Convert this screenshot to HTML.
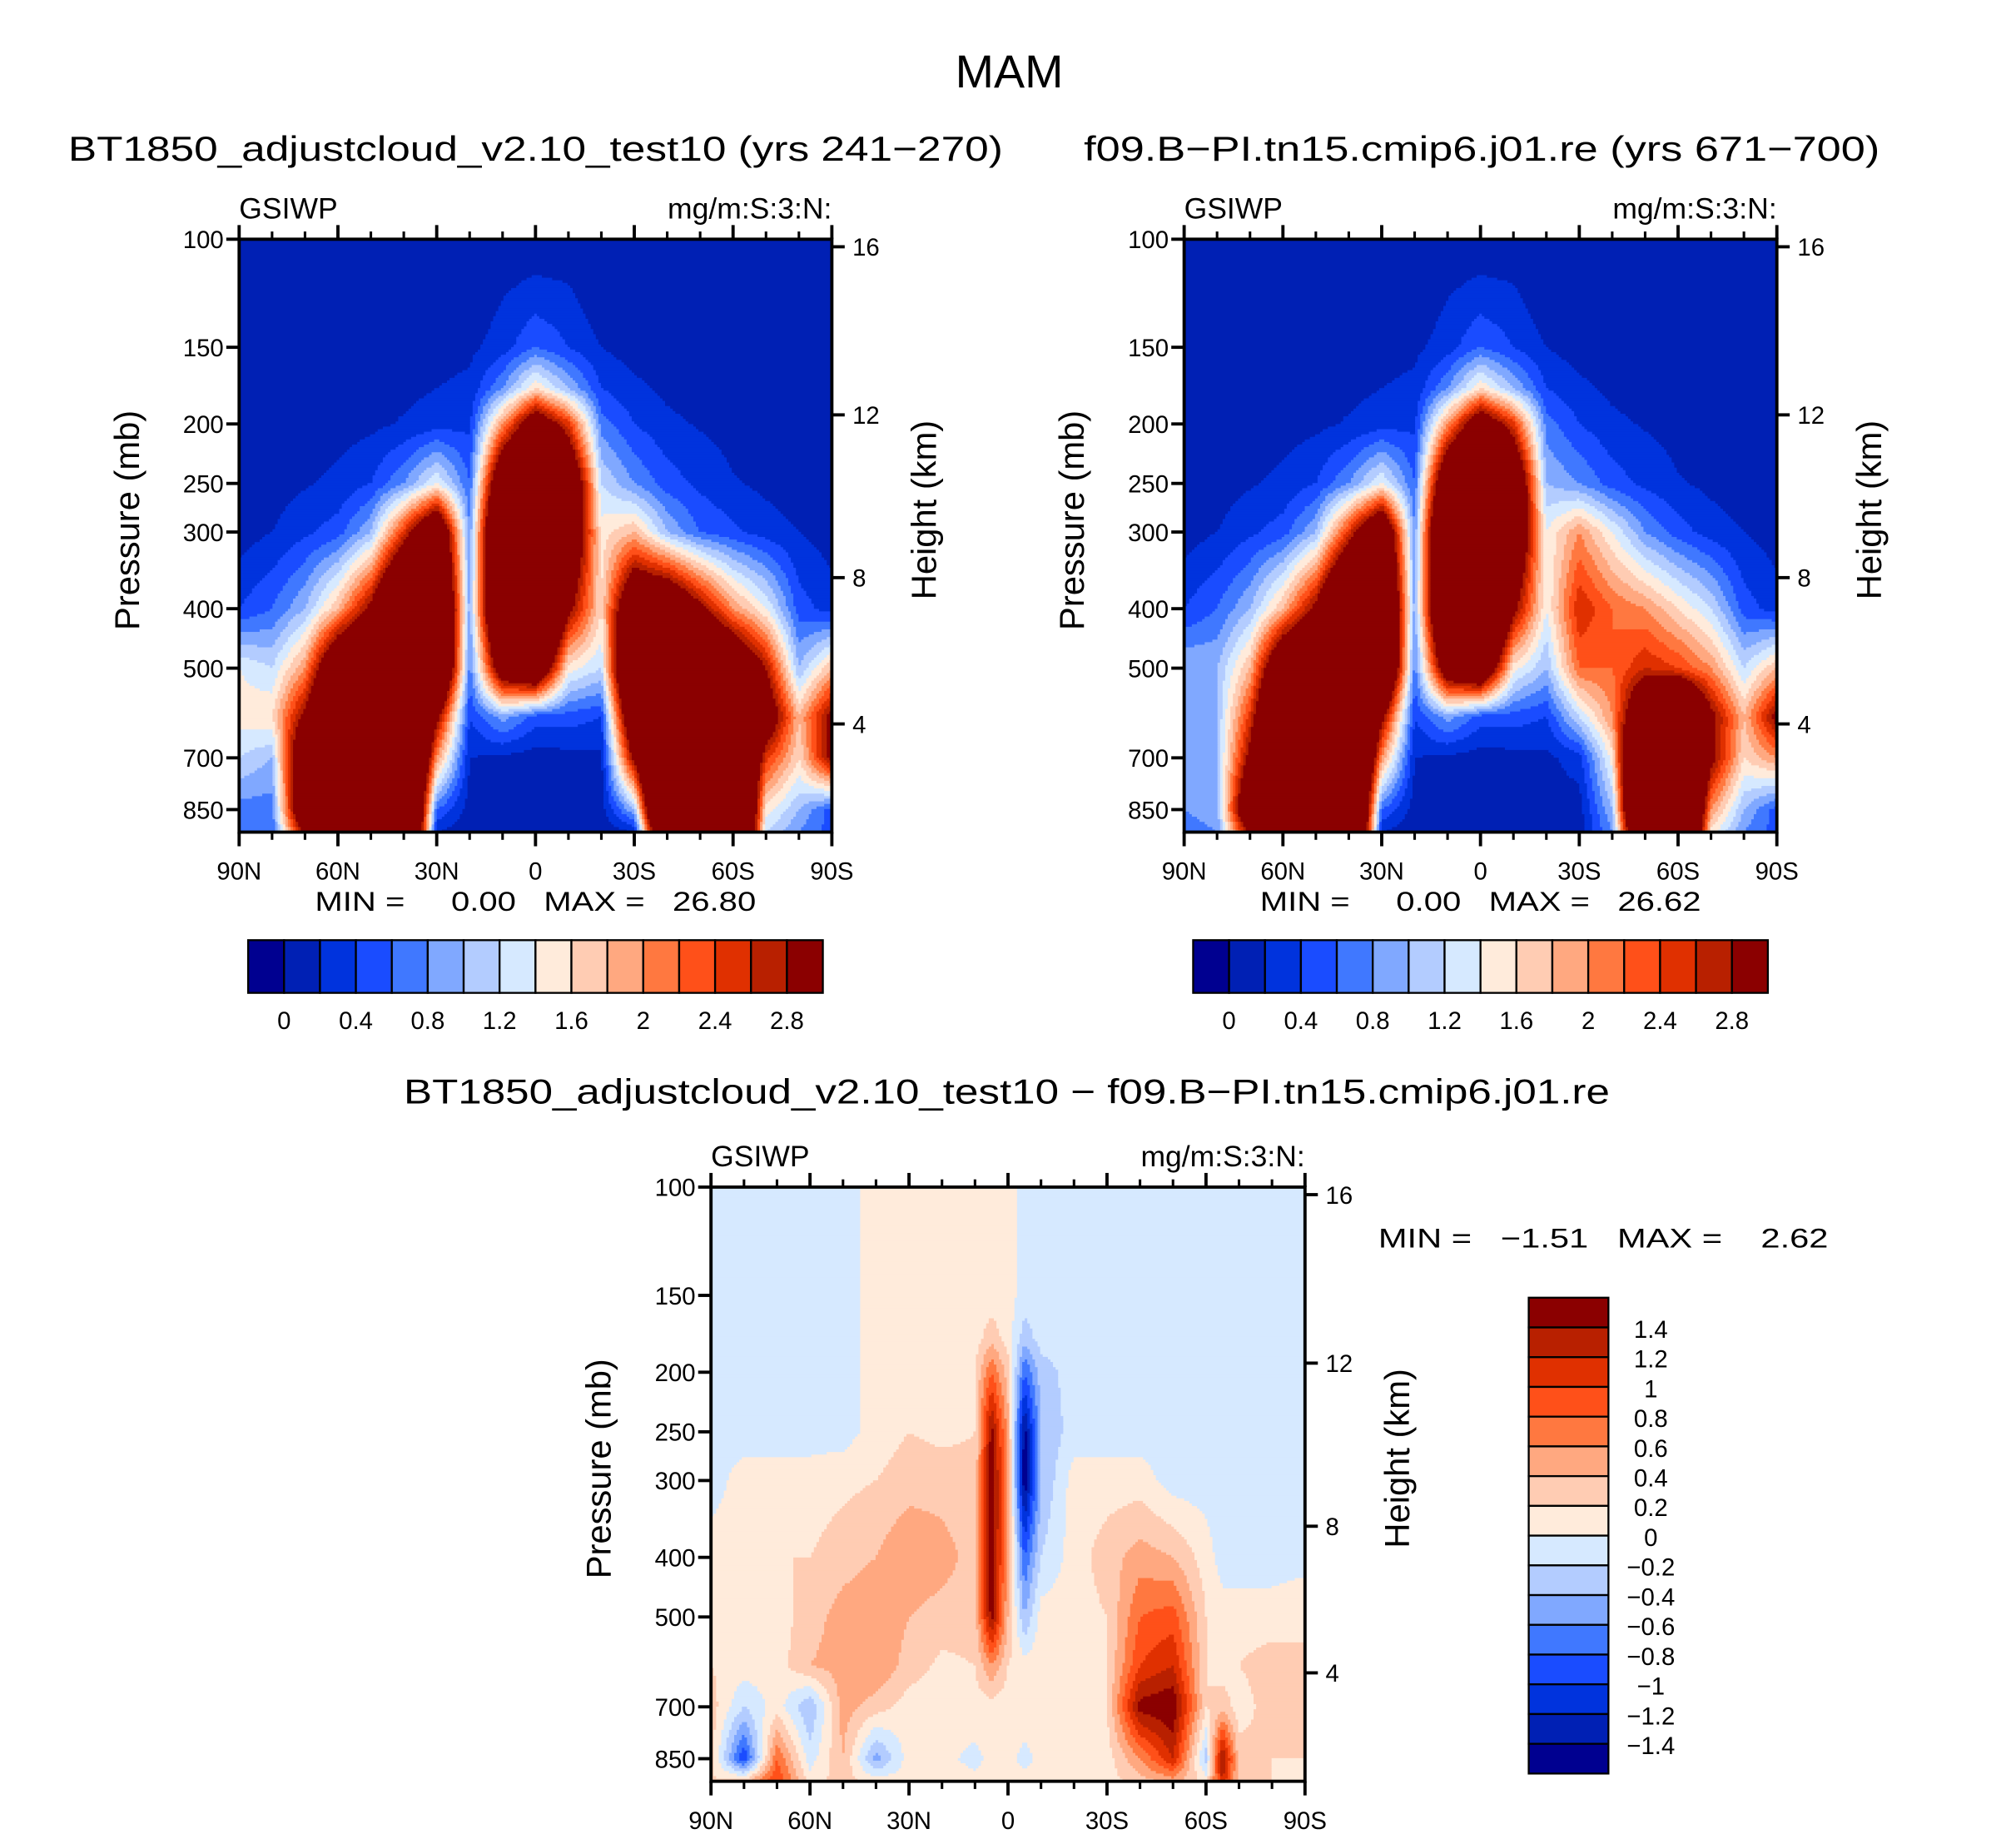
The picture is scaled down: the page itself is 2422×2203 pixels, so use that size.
<!DOCTYPE html>
<html><head><meta charset="utf-8"><style>
html,body{margin:0;padding:0;background:#fff;}
svg{display:block;font-family:"Liberation Sans",sans-serif;}
.pre{white-space:pre;}
</style></head><body>
<svg id="fig" xmlns="http://www.w3.org/2000/svg" width="2422" height="2203" viewBox="0 0 1568 1426" preserveAspectRatio="none">
<rect x="0" y="0" width="1568" height="1426" fill="#fff"/>
<text x="785" y="68" font-size="36" text-anchor="middle">MAM</text>
<text x="53" y="125" font-size="27" textLength="727" lengthAdjust="spacingAndGlyphs">BT1850_adjustcloud_v2.10_test10 (yrs 241−270)</text>
<text x="843" y="125" font-size="27" textLength="619" lengthAdjust="spacingAndGlyphs">f09.B−PI.tn15.cmip6.j01.re (yrs 671−700)</text>
<text x="314" y="858" font-size="27" textLength="938" lengthAdjust="spacingAndGlyphs">BT1850_adjustcloud_v2.10_test10 − f09.B−PI.tn15.cmip6.j01.re</text>
<g id="root"></g>
</svg>
<script>
const levels=[100,125,150,175,200,250,300,400,500,600,700,850,925];
const latsTop=[90,80,70,60,50,40,30,20,10,0,-10,-20,-30,-40,-50,-60,-70,-80,-90];
const fieldA=[
[.05,.05,.05,.05,.05,.05,.05,.05,.05,.05,.05,.05,.05,.05,.05,.05,.05,.05,.05],
[.05,.05,.05,.05,.05,.05,.05,.05,.2,.3,.25,.05,.05,.05,.05,.05,.05,.05,.05],
[.05,.05,.05,.05,.08,.1,.12,.15,.3,.6,.4,.2,.1,.08,.05,.05,.05,.05,.05],
[.05,.05,.05,.08,.15,.15,.2,.25,.8,1.6,1.0,.4,.25,.15,.1,.08,.05,.05,.05],
[.05,.05,.08,.12,.15,.22,.3,.35,2.0,3.5,2.5,.7,.4,.25,.18,.12,.08,.05,.05],
[.05,.1,.18,.25,.4,.8,1.4,.6,4,5,4,1.2,.8,.5,.35,.22,.15,.08,.05],
[.1,.2,.35,.5,1.0,2.5,4,.8,5,6,4,1.5,1.8,1.0,.6,.45,.3,.2,.1],
[.4,.6,1.0,1.8,3,5,5,.9,5,6,3,1.6,4,4,3,2,1.4,.5,.3],
[1.4,1.2,2.0,4,5,6,5,.7,3.5,4,1.5,1.2,5,6,5,4,2.8,1.0,1.8],
[1.5,1.6,3,5,6,6,3,.4,.9,.5,.5,.4,4,6,6,5,3.5,1.8,3],
[1.2,1.0,4,6,6,6,2,.2,.15,.1,.12,.15,3,6,6,5,2.5,1.6,3],
[.7,.7,4,6,6,6,.6,.1,.05,.05,.05,.1,1.0,6,6,6,1.5,1.0,.5],
[.6,.6,3,6,6,6,.2,.05,.05,.05,.05,.05,.2,5,6,6,1.2,.8,.5]];
const fieldB=[
[.05,.05,.05,.05,.05,.05,.05,.05,.05,.05,.05,.05,.05,.05,.05,.05,.05,.05,.05],
[.05,.05,.05,.05,.05,.05,.05,.05,.2,.3,.25,.05,.05,.05,.05,.05,.05,.05,.05],
[.05,.05,.05,.05,.08,.1,.12,.15,.3,.6,.4,.2,.1,.08,.05,.05,.05,.05,.05],
[.05,.05,.05,.08,.15,.15,.2,.25,.8,1.6,1.0,.4,.25,.15,.1,.08,.05,.05,.05],
[.05,.05,.08,.12,.15,.22,.3,.35,2.0,3.5,2.5,.7,.4,.25,.18,.12,.08,.05,.05],
[.05,.1,.18,.25,.4,.8,1.4,.6,4,5,4,1.0,.8,.5,.35,.22,.15,.08,.05],
[.1,.2,.35,.5,1.0,2.5,4,.8,5,6,4,1.4,2.0,1.4,.8,.5,.3,.2,.1],
[.4,.6,1.0,1.8,3,5,5,.9,5,6,3,1.4,2.6,2.2,2.0,1.6,1.2,.5,.3],
[1.0,1.0,1.8,4,5,6,5,.7,3.5,4,1.5,1.0,2.2,2.2,2.6,2.4,2.0,1.2,1.8],
[.9,1.0,2.5,5,6,6,3,.4,.9,.5,.5,.4,1.2,2.0,4,5,3,1.8,3],
[.9,1.0,3,6,6,6,2,.2,.15,.1,.12,.15,.3,1.5,6,6,3,1.6,2],
[.8,.9,4,6,6,6,.6,.1,.05,.05,.05,.1,.1,1.0,6,6,2,1.0,.5],
[.7,.8,3,6,6,6,.2,.05,.05,.05,.05,.05,.1,.8,5,6,1.5,.8,.5]];
const latsDiff=[90,80,70,60,50,40,30,20,10,5,0,-5,-10,-20,-30,-40,-50,-60,-65,-70,-80,-90];
const fieldD=[
[-.1,-.1,-.1,-.1,-.1,.1,.1,.1,.1,.1,.1,-.1,-.1,-.1,-.1,-.1,-.1,-.1,-.1,-.1,-.1,-.1],
[-.1,-.1,-.1,-.1,-.1,.1,.1,.1,.1,.1,.1,-.1,-.1,-.1,-.1,-.1,-.1,-.1,-.1,-.1,-.1,-.1],
[-.1,-.1,-.1,-.1,-.1,.1,.1,.1,.1,.1,.1,-.1,-.1,-.1,-.1,-.1,-.1,-.1,-.1,-.1,-.1,-.1],
[-.1,-.1,-.1,-.1,-.1,.1,.1,.1,.1,.3,.1,-.3,-.1,-.1,-.1,-.1,-.1,-.1,-.1,-.1,-.1,-.1],
[-.1,-.1,-.1,-.1,-.1,.1,.1,.1,.2,.8,.3,-.8,-.3,-.1,-.1,-.1,-.1,-.1,-.1,-.1,-.1,-.1],
[-.1,-.1,-.1,-.1,-.1,.1,.2,.15,.2,1.5,.5,-1.5,-.4,-.1,-.1,-.1,-.1,-.1,-.1,-.1,-.1,-.1],
[-.1,.1,.1,.1,.15,.2,.3,.3,.25,1.6,.6,-1.6,-.4,.1,.1,.1,-.1,-.1,-.1,-.1,-.1,-.1],
[.1,.1,.2,.2,.3,.4,.6,.5,.3,1.6,.5,-.8,-.2,.1,.3,.5,.4,.1,-.1,-.1,-.1,-.1],
[.2,.2,.1,.3,.5,.6,.4,.3,.3,1.5,.4,-.4,.1,.1,.2,.8,.9,.2,.1,.1,.1,.2],
[.2,.1,.1,.4,.5,.6,.3,.15,.2,.6,.2,.1,.1,.1,.2,1.0,1.2,.2,.1,.2,.3,.2],
[.3,-.2,.1,-.4,.5,.3,.1,.1,.1,.1,.1,.1,.1,.1,.2,1.5,1.6,.2,.3,.1,.3,.2],
[.3,-1.0,.8,-.1,.4,-.5,.1,.05,-.05,.05,.05,-.05,.05,.05,.1,.6,1.2,-.3,1.5,.3,.2,.2],
[.2,.3,1.0,.1,.3,.1,.1,.05,.05,.05,.05,.05,.05,.05,.1,.3,.5,.1,1.2,.3,.2,.1]];
const palette=["#000090","#0020B4","#0033DD","#1A4CFF","#4078FF","#80A8FF","#B3CCFF","#D6E9FF","#FFEBDB","#FFCCB3","#FFA880","#FF7840","#FF5019","#E03000","#B82000","#8B0000"];
const levTop=[0,0.2,0.4,0.6,0.8,1,1.2,1.4,1.6,1.8,2,2.2,2.4,2.6,2.8];
const levDiff=[-1.4,-1.2,-1,-0.8,-0.6,-0.4,-0.2,0,0.2,0.4,0.6,0.8,1,1.2,1.4];
const topCbLabels=["0","0.4","0.8","1.2","1.6","2","2.4","2.8"];
const diffCbLabels=["1.4","1.2","1","0.8","0.6","0.4","0.2","0","−0.2","−0.4","−0.6","−0.8","−1","−1.2","−1.4"];
const pTicks=[100,150,200,250,300,400,500,700,850];
const hTicks=[4,8,12,16];
const latMajor=[90,60,30,0,-30,-60,-90];
const latMajorLabels=["90N","60N","30N","0","30S","60S","90S"];
const latMinor=[80,70,50,40,20,10,-10,-20,-40,-50,-70,-80];

const NS="http://www.w3.org/2000/svg";
const root=document.getElementById('root');
function mk(tag,attrs,parent){const e=document.createElementNS(NS,tag);for(const k in attrs)e.setAttribute(k,attrs[k]);(parent||root).appendChild(e);return e;}
const P_TOP=100,P_BOT=925;
function yOfP(p,y0,h){return y0+h*Math.log(p/P_TOP)/Math.log(P_BOT/P_TOP);}
function xOfLat(lat,x0,w){return x0+w*(90-lat)/180;}
function pOfZ(z){return z<=11?1013.25*Math.pow(1-0.0065*z*1000/288.15,5.2559):226.32*Math.exp(-(z-11)/6.3416);}
function sample(field,lats,lat,p){
  let i=0;while(i<lats.length-2&&lat<lats[i+1])i++;
  let tx=(lats[i]-lat)/(lats[i]-lats[i+1]);tx=Math.max(0,Math.min(1,tx));
  const lp=Math.log(p);let j=0;while(j<levels.length-2&&p>levels[j+1])j++;
  let ty=(lp-Math.log(levels[j]))/(Math.log(levels[j+1])-Math.log(levels[j]));ty=Math.max(0,Math.min(1,ty));
  const a=field[j][i],b=field[j][i+1],c=field[j+1][i],d=field[j+1][i+1];
  return (a*(1-tx)+b*tx)*(1-ty)+(c*(1-tx)+d*tx)*ty;
}
function cidx(v,levs){let k=0;for(const l of levs){if(v>=l)k++;}return k;}

function panel(name,x0,y0,w,h,field,lats,levs){
  const g=mk('g',{});
  
  
  const n=231,cw=w/n,ch=h/n;
  for(let r=0;r<n;r++){
    const p=Math.exp(Math.log(P_TOP)+(r+0.5)/n*Math.log(P_BOT/P_TOP));
    let start=0,cur=-1;
    for(let c=0;c<=n;c++){
      let k=-2;
      if(c<n){const lat=90-(c+0.5)/n*180;k=cidx(sample(field,lats,lat,p),levs);}
      if(k!==cur){
        if(cur>=0){const rc=mk('rect',{x:(x0+start*cw).toFixed(2),y:(y0+r*ch).toFixed(2),width:((c-start)*cw+0.4).toFixed(2),height:(ch+0.4).toFixed(2),fill:palette[cur]},g);
          
          }
        cur=k;start=c;
      }
    }
  }
  const ax=mk('g',{stroke:'#000','stroke-width':2.5,fill:'none'});
  
  
  mk('rect',{x:x0,y:y0,width:w,height:h},ax);
  for(const p of pTicks){const y=yOfP(p,y0,h);mk('line',{x1:x0-10,y1:y,x2:x0,y2:y},ax);
    const t=mk('text',{x:x0-12,y:y+7,'font-size':19,'text-anchor':'end'});t.textContent=p;
    
    }
  for(const z of hTicks){const y=yOfP(pOfZ(z),y0,h);mk('line',{x1:x0+w,y1:y,x2:x0+w+10,y2:y},ax);
    const t=mk('text',{x:x0+w+16,y:y+7,'font-size':19});t.textContent=z;
    
    }
  latMajor.forEach((lat,i)=>{const x=xOfLat(lat,x0,w);mk('line',{x1:x,y1:y0+h,x2:x,y2:y0+h+11},ax);mk('line',{x1:x,y1:y0,x2:x,y2:y0-11},ax);
    const t=mk('text',{x:x,y:y0+h+37,'font-size':19,'text-anchor':'middle'});t.textContent=latMajorLabels[i];
    
    });
  for(const lat of latMinor){const x=xOfLat(lat,x0,w);mk('line',{x1:x,y1:y0+h,x2:x,y2:y0+h+6,'stroke-width':2},ax);mk('line',{x1:x,y1:y0,x2:x,y2:y0-6,'stroke-width':2},ax);}
  const gs=mk('text',{x:x0,y:y0-16,'font-size':23});gs.textContent='GSIWP';
  
  
  const un=mk('text',{x:x0+w,y:y0-16,'font-size':23,'text-anchor':'end'});un.textContent='mg/m:S:3:N:';
  
  
  const yl=mk('text',{x:0,y:0,'font-size':27,'text-anchor':'middle',transform:`translate(${x0-78},${y0+h/2-12}) rotate(-90)`});yl.textContent='Pressure  (mb)';
  
  
  const hl=mk('text',{x:0,y:0,'font-size':27,'text-anchor':'middle',transform:`translate(${x0+w+81},${y0+h/2-20}) rotate(-90)`});hl.textContent='Height  (km)';
  
  
}
function hColorbar(name,x0,y0,w,h){
  const g=mk('g',{});
  
  
  const bw=w/16;
  palette.forEach((c,i)=>{const r=mk('rect',{x:x0+i*bw,y:y0,width:bw,height:h,fill:c,stroke:'#000','stroke-width':1.5},g);
    
    });
  topCbLabels.forEach((l,i)=>{const t=mk('text',{x:x0+(1+2*i)*bw,y:y0+h+28,'font-size':19,'text-anchor':'middle'},g);t.textContent=l;
    
    });
}
function minmax(name,x,y,txt,len){const t=mk('text',{x:x,y:y,'font-size':21,textLength:len,lengthAdjust:'spacingAndGlyphs','class':'pre'});t.textContent=txt;
  
  }

panel('left-panel',186,186,461,461,fieldA,latsTop,levTop);
panel('right-panel',921,186,461,461,fieldB,latsTop,levTop);
panel('diff-panel',553,923,462,462,fieldD,latsDiff,levDiff);
minmax('left-min-max',245,708,'MIN =     0.00   MAX =   26.80',343);
minmax('right-min-max',980,708,'MIN =     0.00   MAX =   26.62',343);
minmax('diff-min-max',1072,970,'MIN =   −1.51   MAX =    2.62',350);
hColorbar('left-colorbar',193,731,447,41);
hColorbar('right-colorbar',928,731,447,41);
(function(){
  const x0=1189,y0=1009,w=62,h=370,bh=h/16;
  const g=mk('g',{});
  
  
  for(let i=0;i<16;i++){const r=mk('rect',{x:x0,y:y0+i*bh,width:w,height:bh,fill:palette[15-i],stroke:'#000','stroke-width':1.5},g);
    
    }
  diffCbLabels.forEach((l,i)=>{const t=mk('text',{x:1284,y:y0+(i+1)*bh+8,'font-size':19,'text-anchor':'middle'},g);t.textContent=l;
    
    });
})();
</script>
</body></html>
